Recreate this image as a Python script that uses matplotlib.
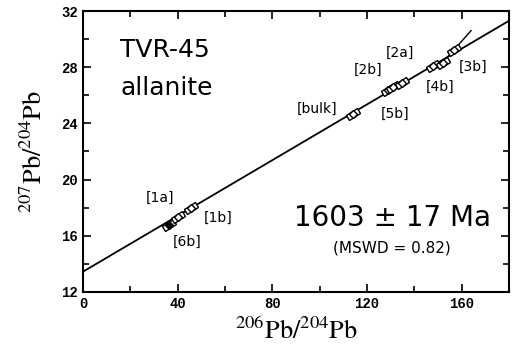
import matplotlib
matplotlib.use("Agg")
import matplotlib.pyplot as plt
from matplotlib.markers import MarkerStyle
from matplotlib.transforms import Affine2D
import numpy as np

plt.rcParams["mathtext.fontset"] = "stix"

# data
pb206 = [36.4, 40.2, 45.7, 113.9, 129.0, 130.8, 135.0, 148.0, 152.0, 157.0]
pb207 = [16.8, 17.35, 18.0, 24.7, 26.35, 26.6, 26.85, 28.1, 28.3, 29.2]
filled = [True, False, False, False, False, False, False, False, False, False]
line_x = [0, 180]
line_y = [13.45, 31.3]
errline_x = [154.0, 164.0]
errline_y = [28.7, 30.6]
labels = ["[1a]", "[6b]", "[1b]", "[bulk]", "[2b]", "[2a]", "[5b]", "[4b]", "[3b]"]
label_x = [32.6, 44.0, 57.0, 99.0, 120.6, 134.0, 132.0, 151.0, 165.0]
label_y = [18.7, 15.6, 17.3, 25.0, 27.8, 29.0, 24.7, 26.6, 28.0]
xticks = [0, 40, 80, 120, 160]
yticks = [12, 16, 20, 24, 28, 32]

fig = plt.figure(figsize=(5.13, 3.55), dpi=100)
ax = fig.add_axes([0.162, 0.1775, 0.830, 0.7915])

ax.plot(line_x, line_y, color="black", lw=1.3)
ax.plot(errline_x, errline_y, color="black", lw=1.0)

box = MarkerStyle("s", transform=Affine2D().scale(2.0, 0.9).rotate_deg(31))
for x, y, f in zip(pb206, pb207, filled):
    ax.plot([x], [y], marker=box, ms=4.5, mfc="white", mec="black", mew=1.0, ls="none")
    ax.plot([x], [y], marker="D", ms=4.3, mfc="black" if f else "white",
            mec="black", mew=1.0, ls="none")

for t, x, y in zip(labels, label_x, label_y):
    ax.text(x, y, t, fontsize=10, ha="center", va="center", family="DejaVu Sans")

ax.text(34.7, 29.2, "TVR-45", fontsize=18, ha="center", va="center", family="DejaVu Sans")
ax.text(35.5, 26.5, "allanite", fontsize=18, ha="center", va="center", family="DejaVu Sans")
ax.text(130.8, 17.3, "1603 \u00b1 17 Ma", fontsize=20, ha="center", va="center", family="DejaVu Sans")
ax.text(130.5, 15.1, "(MSWD = 0.82)", fontsize=11, ha="center", va="center", family="DejaVu Sans")

ax.set_xlim(0, 180)
ax.set_ylim(12, 32)
ax.set_xticks(xticks)
ax.set_yticks(yticks)
ax.set_xticks(np.arange(20, 180, 40), minor=True)
ax.set_yticks(np.arange(14, 32, 4), minor=True)
ax.tick_params(which="both", direction="in", top=True, right=True, width=1.2)
ax.tick_params(which="major", length=6)
ax.tick_params(which="minor", length=4)
for lab in ax.get_xticklabels() + ax.get_yticklabels():
    lab.set_family("Liberation Mono")
    lab.set_fontweight("bold")
    lab.set_fontsize(10)
for s in ax.spines.values():
    s.set_linewidth(1.5)

ax.set_xlabel("$^{206}\\mathrm{Pb}/^{204}\\mathrm{Pb}$", fontsize=19, labelpad=6)
ax.set_ylabel("$^{207}\\mathrm{Pb}/^{204}\\mathrm{Pb}$", fontsize=19, labelpad=10)

fig.savefig("out.png", dpi=100)
